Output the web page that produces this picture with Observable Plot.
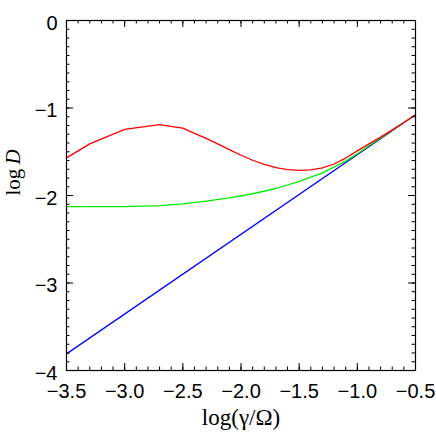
<!DOCTYPE html>
<html><head><meta charset="utf-8">
<script src="https://cdn.jsdelivr.net/npm/d3@7"></script>
<script src="https://cdn.jsdelivr.net/npm/@observablehq/plot@0.6"></script>
<style>body{margin:0;background:#fff}</style>
</head><body><div id="chart"></div>
<script>
const xTicks = [-3.5, -3.0, -2.5, -2.0, -1.5, -1.0, -0.5];
const yTicks = [-4, -3, -2, -1, 0];

const redX = [-3.5, -3.3, -3.0, -2.7, -2.5, -2.4, -2.3, -2.2, -2.1, -2.0, -1.9, -1.8, -1.7, -1.6, -1.5, -1.4, -1.3, -1.2, -1.1, -1.0, -0.9, -0.8, -0.7, -0.6, -0.5];
const redY = [-1.57, -1.41, -1.245, -1.19, -1.23, -1.29, -1.348, -1.41, -1.475, -1.54, -1.597, -1.645, -1.682, -1.705, -1.714, -1.706, -1.684, -1.64, -1.572, -1.49, -1.41, -1.333, -1.25, -1.165, -1.078];

const greenX = [-3.5, -3.3, -3.0, -2.7, -2.5, -2.3, -2.1, -1.9, -1.7, -1.5, -1.3, -1.1, -1.0, -0.9, -0.8, -0.7, -0.6, -0.5];
const greenY = [-2.126, -2.128, -2.126, -2.116, -2.095, -2.065, -2.027, -1.98, -1.92, -1.838, -1.742, -1.607, -1.522, -1.432, -1.343, -1.255, -1.166, -1.078];

const blueX = [-3.5, -0.5];
const blueY = [-3.81, -1.078];

const red = redX.map((x, i) => ({x, y: redY[i]}));
const green = greenX.map((x, i) => ({x, y: greenY[i]}));
const blue = blueX.map((x, i) => ({x, y: blueY[i]}));

const xMinor = d3.range(-35, -4, 1).map(v => v / 10);
const yMinor = d3.range(-40, 1, 1).map(v => v / 10);

const W = 436, H = 436, mt = 20, mb = 66, ml = 66, mr = 21;
const fh = H - mt - mb, fw = W - ml - mr;
const majL = 7, minL = 3.5;

const chart = Plot.plot({
  width: W, height: H,
  marginTop: mt, marginBottom: mb, marginLeft: ml, marginRight: mr,
  style: {background: "#fff", color: "black"},
  x: {domain: [-3.5, -0.5]},
  y: {domain: [-4, 0]},
  marks: [
    Plot.line(blue, {x: "x", y: "y", stroke: "#0000ff", strokeWidth: 1.3}),
    Plot.line(green, {x: "x", y: "y", stroke: "#00ee00", strokeWidth: 1.3}),
    Plot.line(red, {x: "x", y: "y", stroke: "#ff0000", strokeWidth: 1.3}),
    Plot.tickX(xMinor, {x: d => d, insetTop: fh - minL, stroke: "black"}),
    Plot.tickX(xMinor, {x: d => d, insetBottom: fh - minL, stroke: "black"}),
    Plot.tickX(xTicks, {x: d => d, insetTop: fh - majL, stroke: "black"}),
    Plot.tickX(xTicks, {x: d => d, insetBottom: fh - majL, stroke: "black"}),
    Plot.tickY(yMinor, {y: d => d, insetRight: fw - minL, stroke: "black"}),
    Plot.tickY(yMinor, {y: d => d, insetLeft: fw - minL, stroke: "black"}),
    Plot.tickY(yTicks, {y: d => d, insetRight: fw - majL, stroke: "black"}),
    Plot.tickY(yTicks, {y: d => d, insetLeft: fw - majL, stroke: "black"}),
    Plot.frame({stroke: "black", strokeWidth: 1.2}),
    Plot.axisX(xTicks, {anchor: "bottom", tickSize: 0, tickPadding: 13, tickFormat: d3.format(".1f"), fontSize: 20, fontFamily: "Liberation Sans, Arial, sans-serif", label: null}),
    Plot.axisY(yTicks, {anchor: "left", tickSize: 0, tickPadding: 9, tickFormat: d3.format("d"), fontSize: 20, dy: 3, fontFamily: "Liberation Sans, Arial, sans-serif", label: null}),
    Plot.text(["log(γ/Ω)"], {frameAnchor: "bottom", dy: 54, lineAnchor: "bottom", text: d => d, fontSize: 23, fontFamily: "Liberation Serif, Times New Roman, serif", fill: "black"}),
    Plot.text(["log D"], {frameAnchor: "left", dx: -47, rotate: -90, lineAnchor: "bottom", text: d => d, fontSize: 21, fontFamily: "Liberation Serif, Times New Roman, serif", fill: "black"})
  ]
});

d3.select(chart).selectAll("text").each(function() {
  if (this.textContent === "log D") {
    const t = d3.select(this);
    t.text(null);
    t.append("tspan").text("log\u2009");
    t.append("tspan").attr("font-style", "italic").text("D");
  }
});

document.getElementById("chart").appendChild(chart);
</script>
</body></html>
